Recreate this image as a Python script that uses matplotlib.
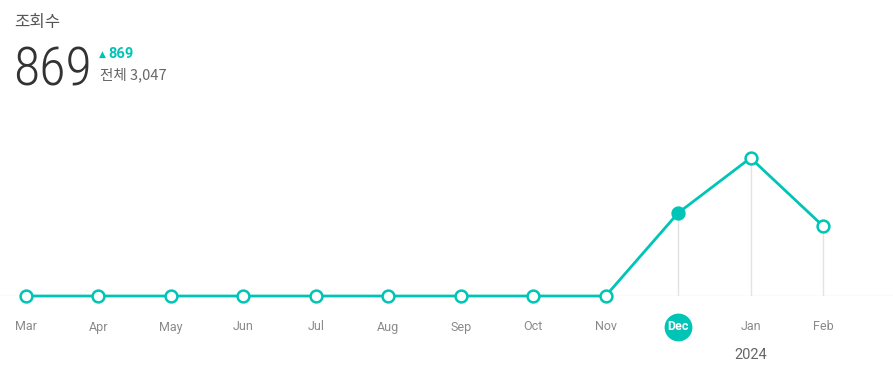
"""View count line chart."""
import matplotlib
matplotlib.use("Agg")
import matplotlib.pyplot as plt

# %% Data
months = ["Mar", "Apr", "May", "Jun", "Jul", "Aug", "Sep", "Oct", "Nov", "Dec", "Jan", "Feb"]
views = [0, 0, 0, 0, 0, 0, 0, 0, 0, 869, 1445, 733]
highlight = "Dec"
year_label = "2024"
year_month = "Jan"
title = "조회수"
current = 869
total = 3047

TEAL = "#00C4B6"
W, H = 893, 391

plt.rcParams["font.family"] = ["Roboto", "Noto Sans CJK KR", "DejaVu Sans"]

fig = plt.figure(figsize=(W / 100, H / 100), dpi=100)

# axes placed so baseline sits at pixel 296 and top at pixel 100
ax = fig.add_axes([0, 1 - 296 / H, 1, (296 - 100) / H])
x = list(range(len(months)))
step = (823 - 26) / 11
ax.set_xlim(-26 / step, 11 + (W - 823) / step)
ymax = 2052
ax.set_ylim(0, ymax)
ax.axis("off")
px = ymax / 196  # data units per pixel

# baseline
ax.axhline(0, color="#e6e6e6", lw=1, zorder=1)

# vertical guides for non-zero points
for xi, v in zip(x, views):
    if v > 0:
        ax.plot([xi, xi], [0, v], color="#e3e3e3", lw=1, zorder=1)

ax.plot(x, views, color=TEAL, lw=2, zorder=2, clip_on=False)
hi = months.index(highlight)
for xi, v in zip(x, views):
    face = TEAL if xi == hi else "white"
    ax.plot(xi, v, "o", ms=8.5, mfc=face, mec=TEAL, mew=1.8, zorder=3, clip_on=False)

# month labels
for xi, m in zip(x, months):
    if xi == hi:
        ax.plot(xi, -31 * px, "o", ms=19, color=TEAL, clip_on=False, zorder=3)
        ax.text(xi, -31 * px, m, ha="center", va="center", fontsize=9,
                color="white", fontweight="bold", family=["Roboto", "DejaVu Sans"])
    else:
        ax.text(xi, -31 * px, m, ha="center", va="center", fontsize=9,
                color="#8a8a8a", family=["Roboto", "DejaVu Sans"])
ax.text(months.index(year_month), -59 * px, year_label, ha="center", va="center",
        fontsize=10.5, color="#666666", family=["Roboto", "DejaVu Sans"])

# header
fig.text(14 / W, 1 - 22 / H, title, ha="left", va="center", fontsize=12, color="#555555",
         family=["Noto Sans CJK KR", "DejaVu Sans"])
fig.text(13 / W, 1 - 85 / H, f"{current}", ha="left", va="baseline", fontsize=39,
         color="#333333", fontweight=200, family=["Roboto Condensed", "DejaVu Sans"])
fig.text(99 / W, 1 - 54 / H, "▲", ha="left", va="center", fontsize=6.5,
         color=TEAL, family=["DejaVu Sans"])
fig.text(108 / W, 1 - 54 / H, f"{current}", ha="left", va="center", fontsize=10.5,
         color=TEAL, fontweight="bold", family=["Roboto", "DejaVu Sans"])
fig.text(100 / W, 1 - 75 / H, f"전체 {total:,}", ha="left", va="center", fontsize=10.5,
         color="#666666", family=["Noto Sans CJK KR", "DejaVu Sans"])

fig.savefig("out.png", dpi=100)
